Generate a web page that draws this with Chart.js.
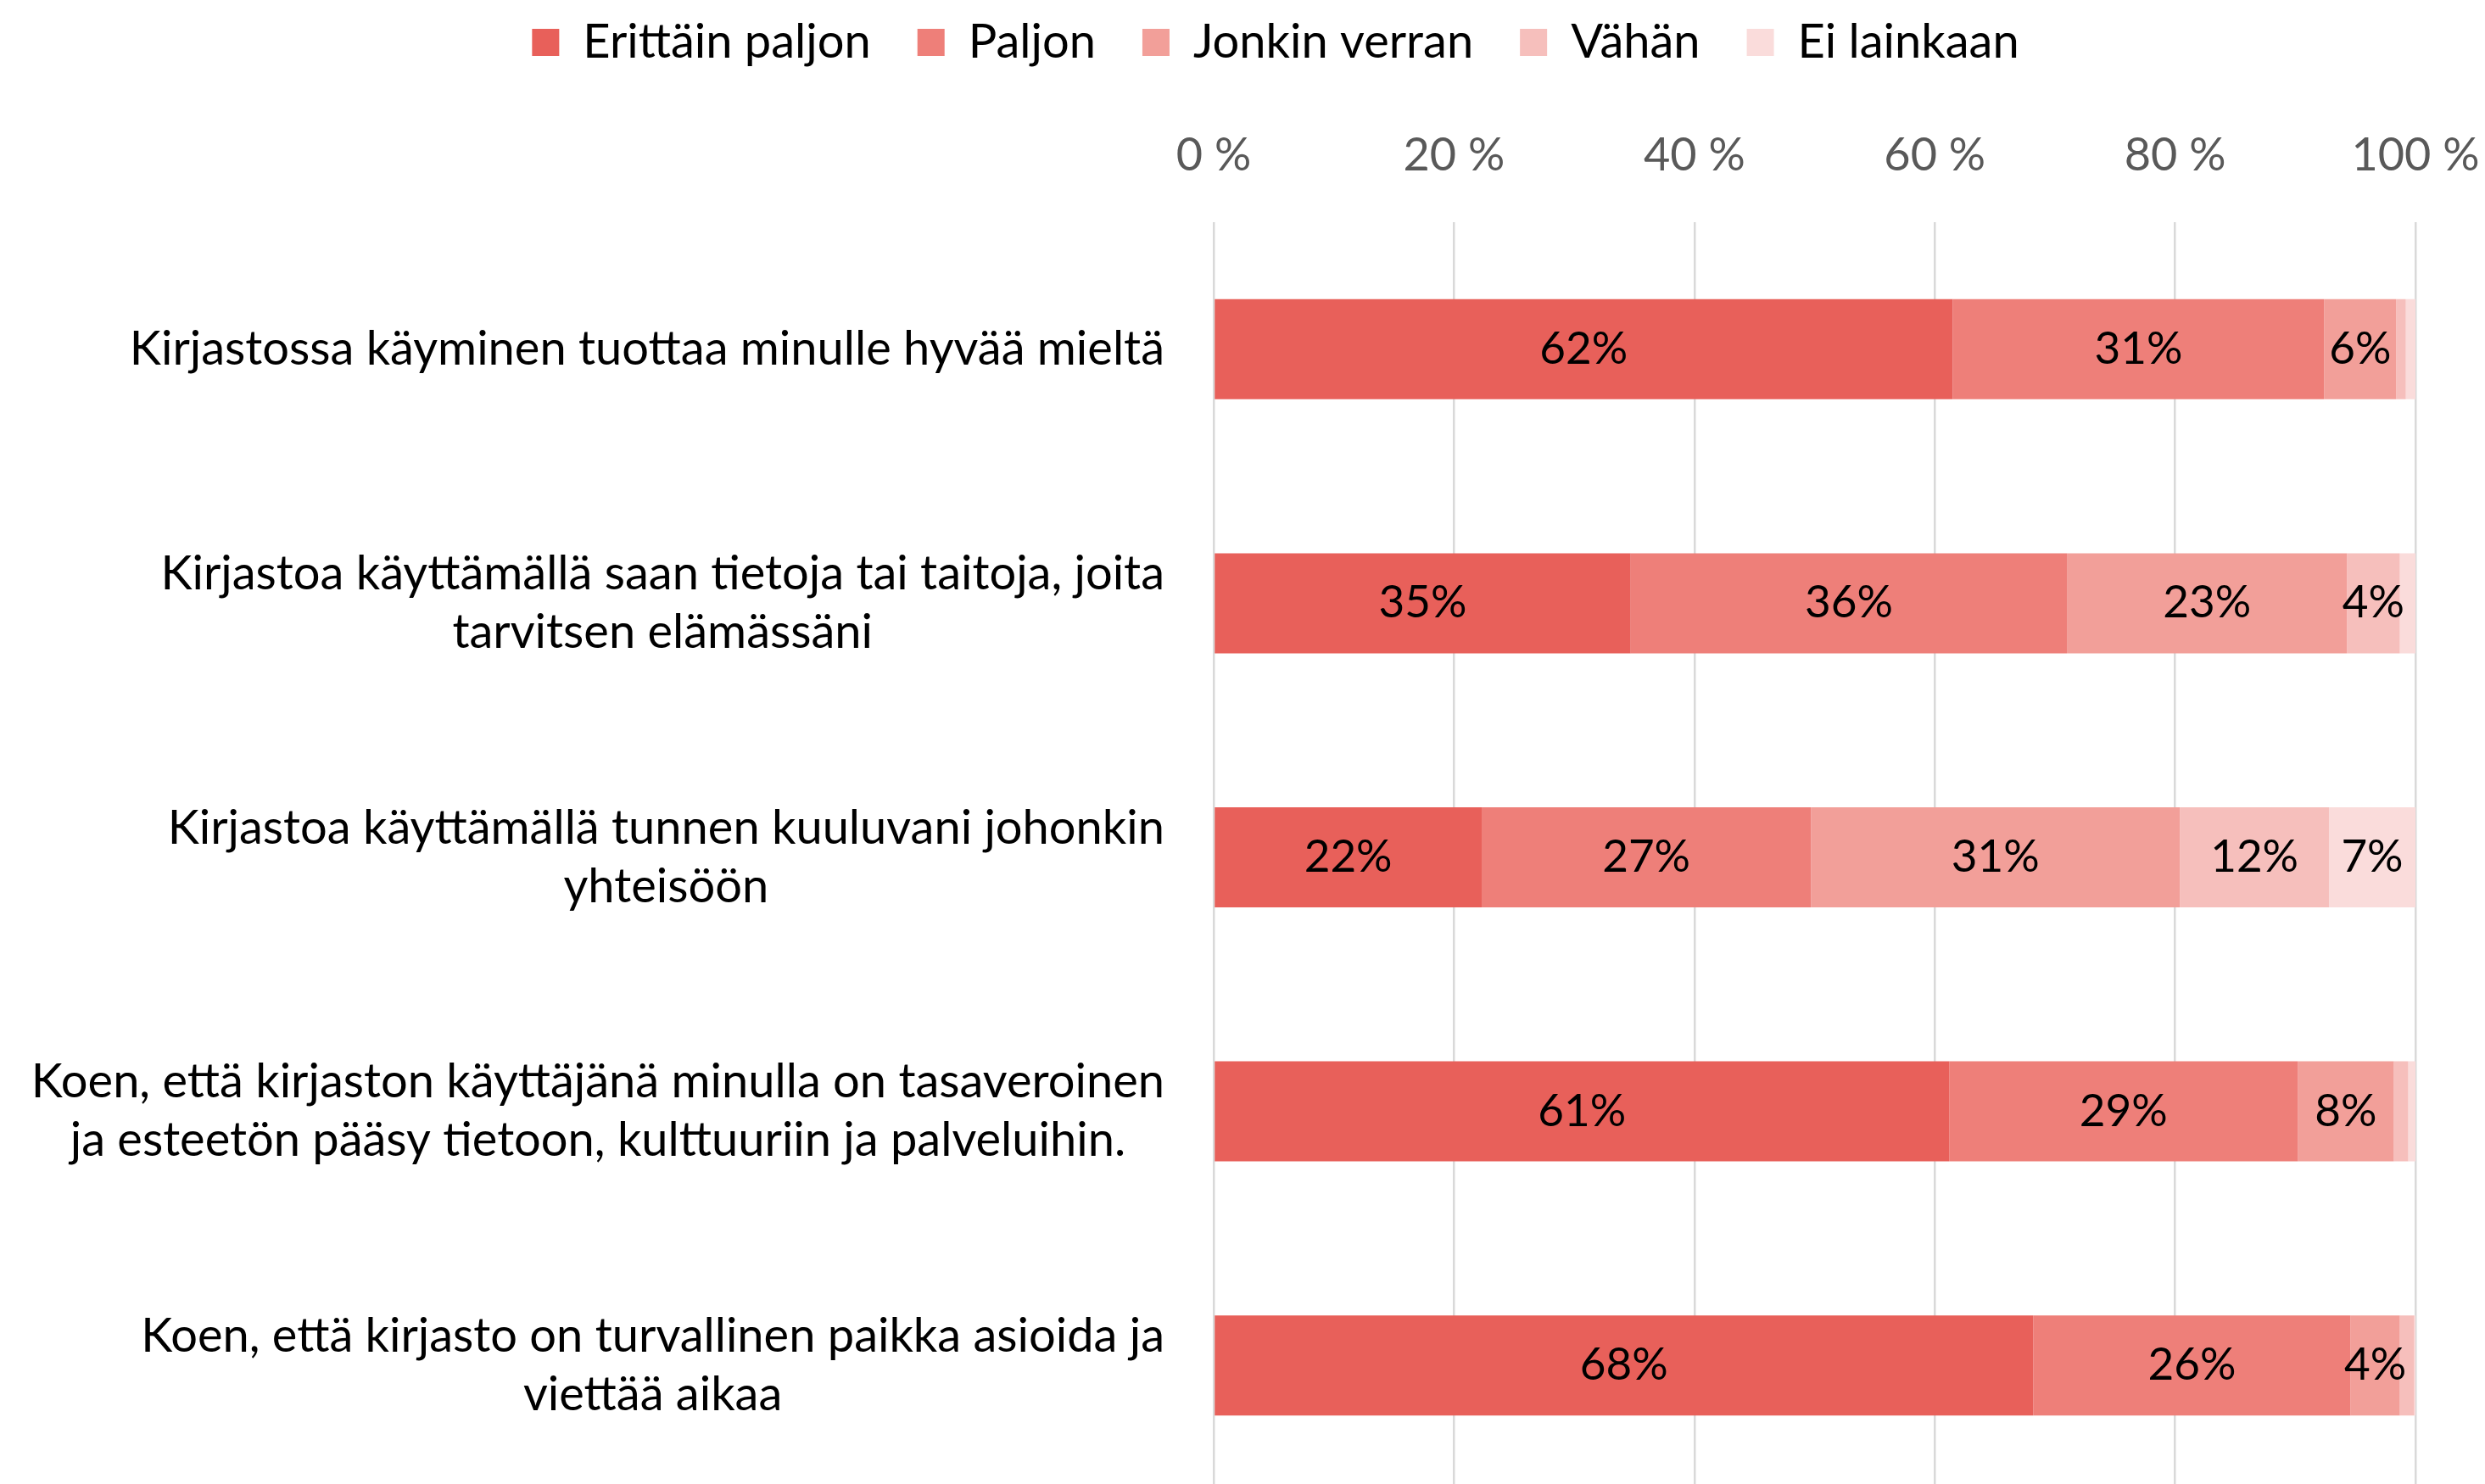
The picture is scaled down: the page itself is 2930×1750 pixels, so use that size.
<!DOCTYPE html>
<html>
<head>
<meta charset="utf-8">
<script src="https://cdn.jsdelivr.net/npm/chart.js@4.4.0/dist/chart.umd.min.js"></script>
<style>
  html, body { margin: 0; padding: 0; overflow: hidden; background: #fff; }
  #wrap { width: 2930px; height: 1760px; }
</style>
</head>
<body>
<div id="wrap"><canvas id="chart"></canvas></div>
<script>
const categories = [
  'Kirjastossa käyminen tuottaa minulle hyvää mieltä',
  ['Kirjastoa käyttämällä saan tietoja tai taitoja, joita', 'tarvitsen elämässäni'],
  ['Kirjastoa käyttämällä tunnen kuuluvani johonkin', 'yhteisöön'],
  ['Koen, että kirjaston käyttäjänä minulla on tasaveroinen', 'ja esteetön pääsy tietoon, kulttuuriin ja palveluihin.'],
  ['Koen, että kirjasto on turvallinen paikka asioida ja', 'viettää aikaa']
];
const seriesNames = ['Erittäin paljon', 'Paljon', 'Jonkin verran', 'Vähän', 'Ei lainkaan'];
const erittainPaljon = [61.5, 34.7, 22.3, 61.2, 68.2];
const paljon = [30.9, 36.3, 27.4, 29.0, 26.4];
const jonkinVerran = [6.0, 23.3, 30.7, 8.0, 4.1];
const vahan = [0.8, 4.4, 12.4, 1.2, 1.2];
const eiLainkaan = [0.8, 1.3, 7.2, 0.6, 0.1];
const xTicks = [0, 20, 40, 60, 80, 100];

const colors = ['#E8605A', '#EE7F79', '#F29F99', '#F6BFBC', '#FADCDB'];
const FONT = 'Lato';

// value labels in the middle of each segment
const barValueLabels = {
  id: 'barValueLabels',
  afterDatasetsDraw(chart) {
    const ctx = chart.ctx;
    ctx.save();
    ctx.font = `53px ${FONT}`;
    ctx.fillStyle = '#000';
    ctx.textAlign = 'center';
    ctx.textBaseline = 'middle';
    chart.data.datasets.forEach((ds, di) => {
      chart.getDatasetMeta(di).data.forEach((bar, i) => {
        const v = ds.data[i];
        if (v < 3) return;
        const p = bar.getProps(['x', 'y', 'base'], true);
        ctx.fillText(Math.round(v) + '%', (p.x + p.base) / 2, p.y);
      });
    });
    ctx.restore();
  }
};

// category labels: block right aligned, lines centred to each other
const categoryLabels = {
  id: 'categoryLabels',
  afterDraw(chart) {
    const ctx = chart.ctx;
    const scale = chart.scales.y;
    ctx.save();
    ctx.font = `56px ${FONT}`;
    ctx.fillStyle = '#000';
    ctx.textAlign = 'center';
    ctx.textBaseline = 'middle';
    categories.forEach((label, i) => {
      const lines = Array.isArray(label) ? label : [label];
      const w = Math.max(...lines.map(l => ctx.measureText(l).width));
      const cx = scale.right - 58 - w / 2;
      const cy = scale.getPixelForTick(i);
      lines.forEach((l, k) => ctx.fillText(l, cx, cy + (k - (lines.length - 1) / 2) * 69));
    });
    ctx.restore();
  }
};

const seriesData = [erittainPaljon, paljon, jonkinVerran, vahan, eiLainkaan];

new Chart(document.getElementById('chart'), {
  type: 'bar',
  data: {
    labels: categories,
    datasets: seriesNames.map((name, k) => ({
      label: name,
      data: seriesData[k],
      backgroundColor: colors[k],
      borderWidth: 0,
      categoryPercentage: 1,
      barPercentage: 0.394
    }))
  },
  options: {
    indexAxis: 'y',
    responsive: true,
    maintainAspectRatio: false,
    animation: false,
    layout: { padding: { top: -33, left: 160, right: 82, bottom: 0 } },
    plugins: {
      legend: {
        position: 'top',
        align: 'center',
        labels: {
          font: { family: FONT, size: 56 },
          color: '#000',
          boxWidth: 32,
          boxHeight: 32,
          padding: 55
        }
      },
      tooltip: { enabled: false }
    },
    scales: {
      x: {
        position: 'top',
        stacked: true,
        min: 0,
        max: 100,
        afterBuildTicks: s => { s.ticks = xTicks.map(v => ({ value: v })); },
        afterFit: s => { s.height = 174; s.paddingLeft = 0; s.paddingRight = 0; },
        ticks: {
          callback: v => v + ' %',
          font: { family: FONT, size: 54 },
          color: '#595959',
          padding: 46
        },
        grid: { color: '#d9d9d9', lineWidth: 2.5, drawTicks: false },
        border: { display: false }
      },
      y: {
        stacked: true,
        afterFit: s => { s.width = 1431 - 160; },
        ticks: { display: false },
        grid: { display: false },
        border: { display: false }
      }
    }
  },
  plugins: [barValueLabels, categoryLabels]
});
</script>
</body>
</html>
